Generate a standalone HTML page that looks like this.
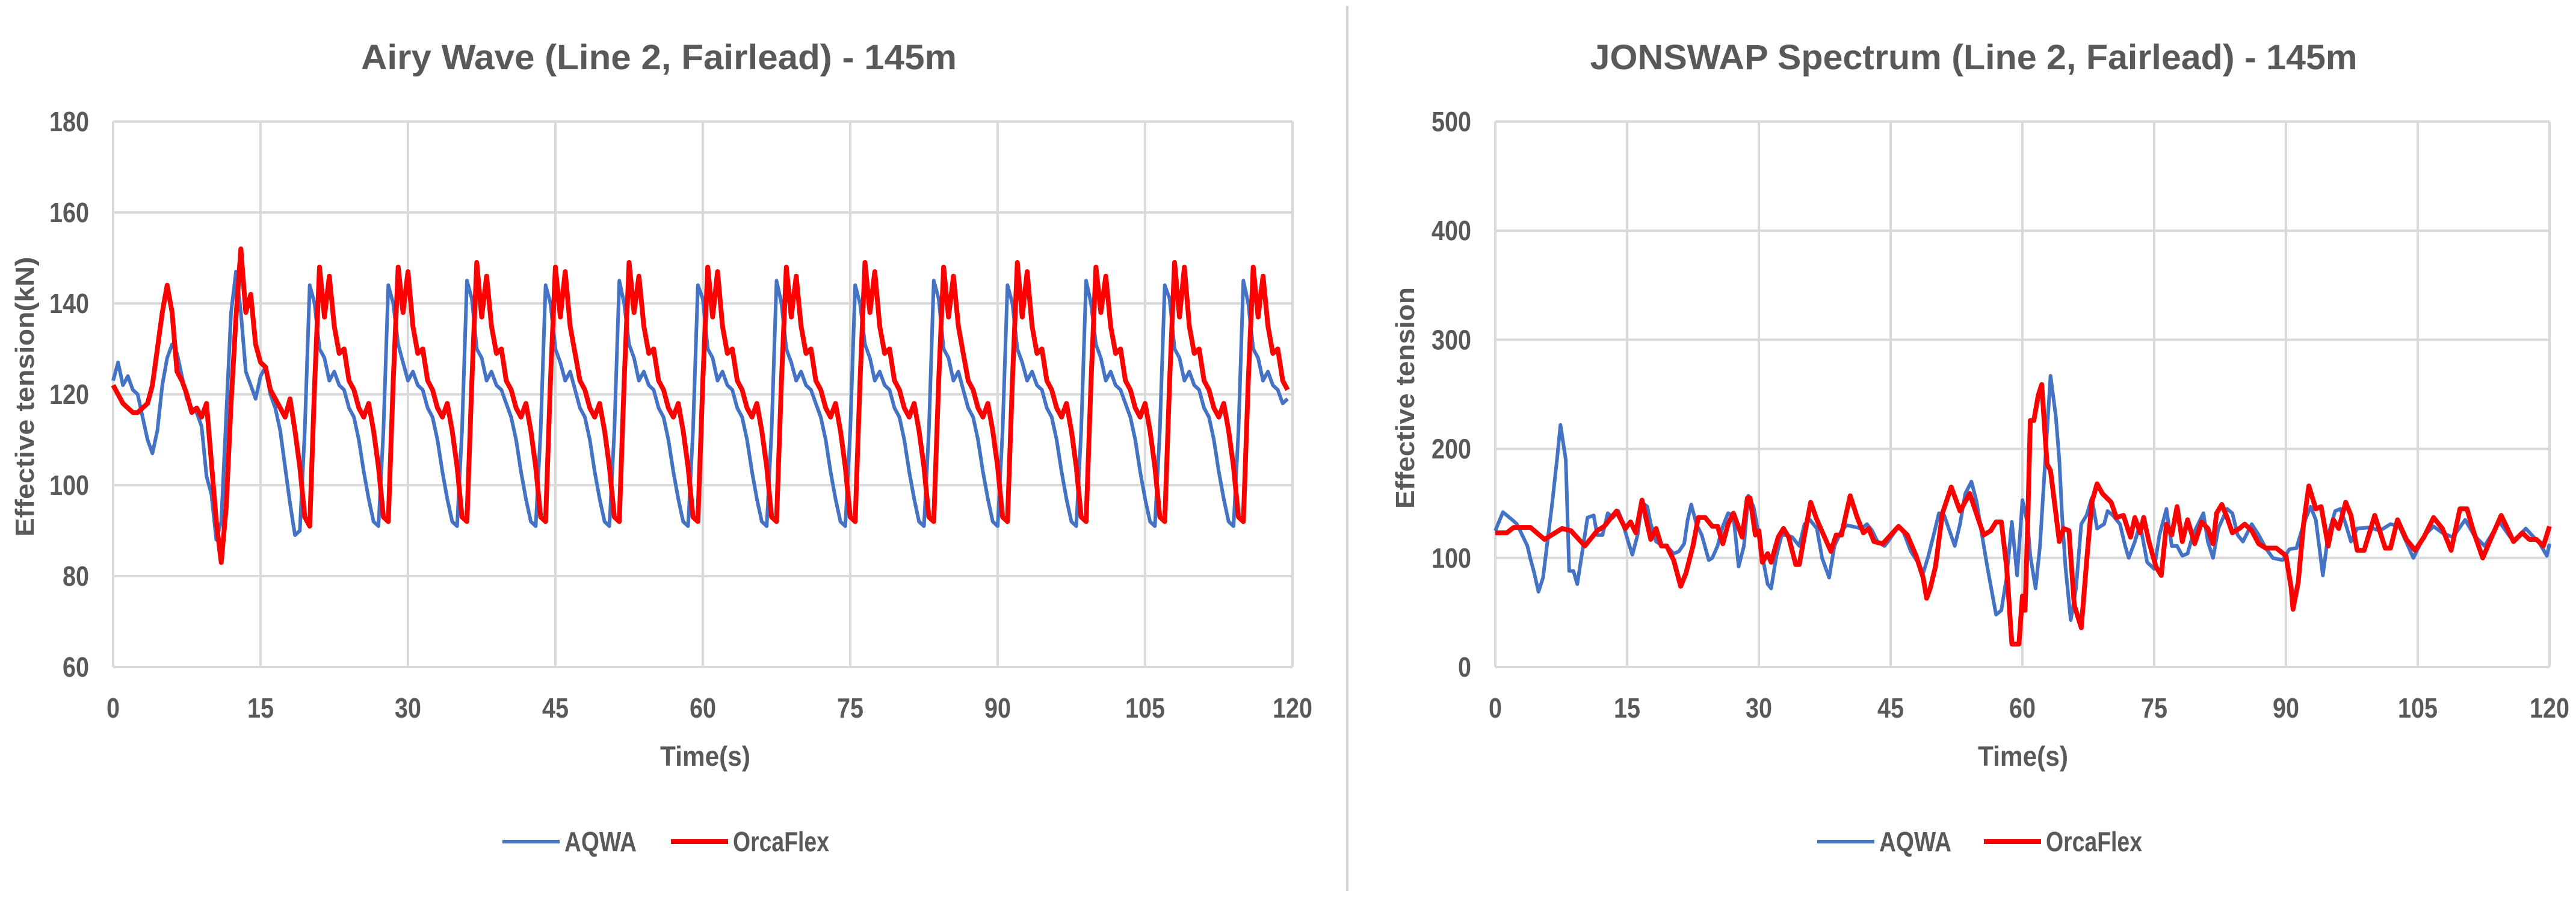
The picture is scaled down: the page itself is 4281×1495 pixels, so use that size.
<!DOCTYPE html>
<html><head><meta charset="utf-8"><style>
html,body{margin:0;padding:0;background:#fff}
svg{display:block}
text{font-family:"Liberation Sans",sans-serif}
</style></head><body>
<svg id="svg" width="4281" height="1495" viewBox="0 0 4281 1495" xmlns="http://www.w3.org/2000/svg">
<rect width="4281" height="1495" fill="#fff"/>
<line x1="2239" y1="10" x2="2239" y2="1480" stroke="#d0d0d0" stroke-width="4"/>
<g id="c1"></g>
<g id="c2"></g>
</svg>
<script>
const xTicks=[0,15,30,45,60,75,90,105,120];
const airyYTicks=[60,80,100,120,140,160,180];
const jonYTicks=[0,100,200,300,400,500];
const airyStep=0.5;
const airyAqwa=[123,127,122,124,121,120,115,110,107,112,122,128,131,129,124,119,117,116,113,102,98,88,92,115,138,147,
138,125,122,119,124,126,120,117,112,104,96,89,90,112,144,
140,130,128,123,125,122,121,117,115,110,103,97,92,91,112,144,
140,131,127,123,125,122,121,117,115,110,103,97,92,91,112,145,
141,130,128,123,125,122,121,118,115,110,103,97,92,91,112,144,
140,130,127,123,125,121,117,115,110,103,97,92,91,112,145,
140,131,128,123,125,122,121,117,115,110,103,97,92,91,112,144,
141,130,128,123,125,122,121,117,115,110,103,97,92,91,112,145,
140,130,127,123,125,122,121,118,115,110,103,97,92,91,112,144,
140,131,128,123,125,122,121,117,115,110,103,97,92,91,112,145,
141,130,128,123,125,121,117,115,110,103,97,92,91,112,144,
140,130,127,123,125,122,121,117,115,110,103,97,92,91,112,145,
140,131,128,123,125,122,121,118,115,110,103,97,92,91,112,144,
141,130,128,123,125,122,121,117,115,110,103,97,92,91,112,145,
140,130,128,123,125,122,121,118,119];
const airyOrca=[122,120,118,117,116,116,117,118,122,130,138,144,138,125,123,120,116,117,115,118,105,92,83,95,118,137,
152,138,142,131,127,126,121,119,117,115,119,112,104,93,91,122,
148,137,146,135,129,130,123,121,117,115,118,112,104,93,92,123,
148,138,147,135,129,130,123,121,117,115,118,112,104,93,92,123,
149,137,146,135,129,130,123,121,117,115,118,112,104,93,92,123,
148,137,147,135,129,123,121,117,115,118,112,104,93,92,123,
149,138,146,135,129,130,123,121,117,115,118,112,104,93,92,123,
148,137,147,135,129,130,123,121,117,115,118,112,104,93,92,123,
148,137,146,135,129,130,123,121,117,115,118,112,104,93,92,123,
149,138,147,135,129,130,123,121,117,115,118,112,104,93,92,123,
148,137,146,135,129,123,121,117,115,118,112,104,93,92,123,
149,137,147,135,129,130,123,121,117,115,118,112,104,93,92,123,
148,138,146,135,129,130,123,121,117,115,118,112,104,93,92,123,
149,137,148,135,129,130,123,121,117,115,118,112,104,93,92,123,
148,137,146,135,129,130,123,121,118];
const jonAqwaT=[0,0.87,2.06,2.46,3.06,3.65,3.97,4.44,4.92,5.44,6.03,6.43,7.02,7.42,8.02,8.41,8.89,9.33,10.0,10.5,11.2,11.6,12.2,12.8,13.4,14.0,14.4,15.2,15.6,16.2,16.7,17.3,17.7,18.3,19.1,19.5,20.3,20.9,21.5,21.9,22.3,22.9,23.5,24.3,24.7,25.3,25.9,26.5,27.1,27.7,28.3,28.8,29.4,30.0,30.4,31.0,31.4,32.0,32.6,33.2,33.8,34.6,35.2,35.8,36.6,37.2,38.0,38.6,39.4,40.0,40.6,41.7,42.3,42.9,43.5,44.3,44.7,45.3,45.9,46.5,47.3,48.1,48.7,49.3,49.9,50.5,51.1,51.7,52.3,52.9,53.5,54.2,54.8,55.4,56.0,57.0,57.6,58.2,58.8,59.4,60.0,60.6,60.9,61.5,62.0,62.6,63.2,63.8,64.2,64.5,64.9,65.5,66.1,66.7,67.3,67.9,68.5,69.3,69.7,70.3,71.1,71.7,72.1,72.8,73.4,74.2,75.0,75.6,76.4,77.0,77.6,78.2,78.8,79.4,80.6,81.1,81.7,82.3,83.3,83.9,84.5,85.1,86.1,86.9,87.7,88.5,89.6,90.4,91.2,92.0,92.8,93.4,94.2,94.8,95.6,96.2,96.8,97.4,98.1,99.5,100.7,101.9,102.9,103.9,104.5,105.8,106.8,107.8,109.0,110.4,111.4,112.6,114.3,115.9,117.3,118.9,119.7,120];
const jonAqwaV=[125,142,134,131,121,111,100,86,69,82,121,147,190,222,190,88,88,76,111,137,139,121,121,141,137,143,135,113,103,121,151,147,131,115,111,111,104,106,113,135,149,131,121,98,100,111,129,141,139,92,111,157,147,121,102,76,72,102,121,121,119,111,131,135,127,100,82,111,125,130,129,127,131,125,115,111,115,122,129,123,106,96,86,102,121,141,139,125,111,131,159,170,151,121,92,48,52,82,133,84,153,131,102,72,111,190,267,230,190,141,92,43,72,131,139,155,127,131,143,139,131,111,100,115,131,96,90,121,145,111,111,102,104,121,141,115,100,127,145,141,121,115,131,121,109,100,98,108,109,131,147,135,84,121,143,145,131,115,127,128,125,131,129,111,100,121,129,123,119,135,121,111,133,115,127,113,102,113];
const jonOrcaT=[0,1.3,2.1,4.0,5.6,7.6,8.6,10.2,11.6,12.4,13.8,14.8,15.4,16.0,16.7,17.3,17.7,18.3,18.9,19.5,20.3,21.1,21.7,22.5,23.1,23.9,24.7,25.3,25.9,26.5,27.1,28.1,28.7,29.0,29.6,30.0,30.4,31.0,31.4,32.2,32.8,33.4,34.2,34.6,35.2,35.9,36.6,38.2,38.8,39.4,40.4,41.2,41.9,42.5,43.1,44.1,45.9,46.9,47.9,48.7,49.1,49.5,50.1,50.9,51.9,52.9,54.0,55.0,55.6,56.4,57.0,57.6,58.2,58.8,59.6,60.0,60.3,60.6,60.9,61.3,61.8,62.2,62.8,63.2,63.8,64.2,64.7,65.3,65.9,66.7,67.3,67.9,68.5,69.1,70.1,70.7,71.5,72.3,72.8,73.4,73.8,74.4,75.2,75.8,76.4,77.0,77.6,78.2,78.8,79.6,80.4,81.1,81.7,82.1,82.7,83.3,83.9,84.7,85.3,86.1,86.9,87.7,88.9,90.0,90.6,90.8,91.4,92.0,92.6,93.4,94.0,94.8,95.4,96.0,96.8,97.4,98.1,98.9,100.1,101.3,101.9,102.7,103.7,104.7,105.7,106.8,107.8,108.8,109.8,110.6,111.4,112.4,113.4,114.5,115.9,116.9,117.7,118.5,119.3,120];
const jonOrcaV=[123,123,128,128,117,127,125,111,125,129,143,127,133,123,153,131,117,127,111,111,98,74,86,111,137,137,129,129,113,131,141,119,155,155,121,125,96,104,96,119,127,119,94,94,121,151,135,106,121,121,157,137,123,127,115,113,129,121,102,82,63,72,92,141,165,143,159,135,121,125,133,133,92,21,21,65,52,131,226,226,249,259,186,180,141,115,127,125,57,36,96,151,168,159,151,137,139,119,137,123,137,115,92,84,131,121,147,115,135,113,133,127,113,141,149,137,123,127,131,125,113,109,109,102,72,53,78,131,166,145,147,111,135,127,151,139,107,107,139,109,109,135,117,107,119,137,127,107,145,145,123,100,119,139,115,123,117,117,111,129];

const NS='http://www.w3.org/2000/svg';
function mk(parent,tag,attrs){const e=document.createElementNS(NS,tag);for(const k in attrs)e.setAttribute(k,attrs[k]);parent.appendChild(e);return e;}

function drawChart(g,cfg){
  const sx=t=>cfg.x0+(t-0)/(120-0)*(cfg.x1-cfg.x0);
  const sy=v=>cfg.yb-(v-cfg.ymin)/(cfg.ymax-cfg.ymin)*(cfg.yb-cfg.yt);
  const title=mk(g,'text',{x:cfg.tx,y:115,'text-anchor':'middle','font-size':58,'font-weight':'bold',fill:'#595959',textLength:cfg.tw,lengthAdjust:'spacingAndGlyphs'});
  
  
  title.textContent=cfg.title;
  cfg.yTicks.forEach(v=>{
    const l=mk(g,'line',{x1:cfg.x0,x2:cfg.x1,y1:sy(v),y2:sy(v),stroke:'#d9d9d9','stroke-width':4});
    
    
    const t=mk(g,'text',{x:cfg.x0-40,y:sy(v)+16,'text-anchor':'end','font-size':46,'font-weight':'bold',fill:'#595959',textLength:String(v).length*22,lengthAdjust:'spacingAndGlyphs'});
    
    
    t.textContent=v;
  });
  xTicks.forEach(v=>{
    const l=mk(g,'line',{x1:sx(v),x2:sx(v),y1:cfg.yt,y2:cfg.yb,stroke:'#d9d9d9','stroke-width':4});
    
    
    const t=mk(g,'text',{x:sx(v),y:1192,'text-anchor':'middle','font-size':46,'font-weight':'bold',fill:'#595959',textLength:String(v).length*22,lengthAdjust:'spacingAndGlyphs'});
    
    
    t.textContent=v;
  });
  const xt=mk(g,'text',{x:cfg.xtx,y:1272,'text-anchor':'middle','font-size':46,'font-weight':'bold',fill:'#595959',textLength:150,lengthAdjust:'spacingAndGlyphs'});
  
  
  xt.textContent='Time(s)';
  const yt=mk(g,'text',{x:0,y:0,'text-anchor':'middle','font-size':44,'font-weight':'bold',fill:'#595959',transform:`translate(${cfg.ytx},${cfg.yty}) rotate(-90)`,textLength:cfg.ytw,lengthAdjust:'spacingAndGlyphs'});
  
  
  yt.textContent=cfg.ytitle;
  const series=[{t:cfg.aT,v:cfg.aV,c:'#4472c4',w:6,n:'aqwa-line'},{t:cfg.oT,v:cfg.oV,c:'#ff0000',w:8,n:'orcaflex-line'}];
  series.forEach(s=>{
    const d=s.v.map((v,i)=>(i?'L':'M')+sx(s.t[i]).toFixed(1)+' '+sy(v).toFixed(1)).join(' ');
    const p=mk(g,'path',{d:d,fill:'none',stroke:s.c,'stroke-width':s.w,'stroke-linejoin':'round'});
    
    
  });
  const lg=[{x:cfg.lx[0],c:'#4472c4',w:6,n:'AQWA',tw:120},{x:cfg.lx[1],c:'#ff0000',w:8,n:'OrcaFlex',tw:160}];
  lg.forEach(e=>{
    const gg=mk(g,'g',{});
    
    
    mk(gg,'line',{x1:e.x,x2:e.x+95,y1:1398,y2:1398,stroke:e.c,'stroke-width':e.w});
    const t=mk(gg,'text',{x:e.x+103,y:1414,'font-size':46,'font-weight':'bold',fill:'#595959',textLength:e.tw,lengthAdjust:'spacingAndGlyphs'});
    t.textContent=e.n;
  });
}
const airyT=airyAqwa.map((v,i)=>i*airyStep);
drawChart(document.getElementById('c1'),{x0:188,x1:2148,yt:202,yb:1108,ymin:60,ymax:180,yTicks:airyYTicks,
  title:'Airy Wave (Line 2, Fairlead) - 145m',tx:1095,tw:990,xtx:1172,ytx:56,yty:659,ytw:465,ytitle:'Effective tension(kN)',
  aT:airyT,aV:airyAqwa,oT:airyT,oV:airyOrca,lx:[835,1115]});
drawChart(document.getElementById('c2'),{x0:2485,x1:4237,yt:202,yb:1108,ymin:0,ymax:500,yTicks:jonYTicks,
  title:'JONSWAP Spectrum (Line 2, Fairlead) - 145m',tx:3280,tw:1275,xtx:3362,ytx:2350,yty:661,ytw:368,ytitle:'Effective tension',
  aT:jonAqwaT,aV:jonAqwaV,oT:jonOrcaT,oV:jonOrcaV,lx:[3020,3297]});
</script>
</body></html>
